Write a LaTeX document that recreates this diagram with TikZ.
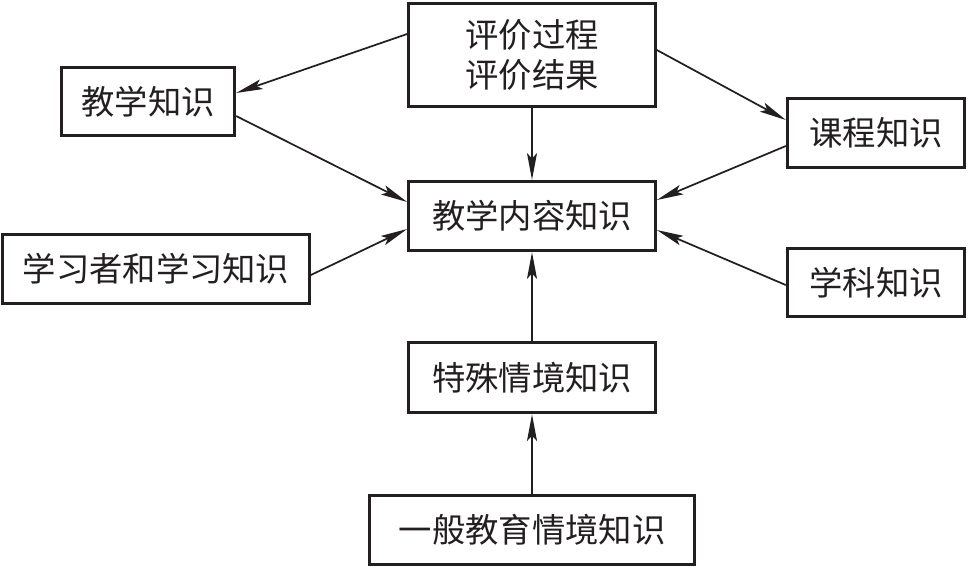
\documentclass[tikz,border=0pt]{standalone}
\usepackage{fontspec}
\usepackage{tikz}
\usetikzlibrary{arrows.meta}
\newfontfamily\cjk{Noto Sans CJK SC}
\definecolor{inkcolor}{HTML}{231F20}

\begin{document}
\begin{tikzpicture}[x=0.75pt, y=-0.75pt,
    box/.style={draw=inkcolor, line width=2.25pt, minimum width=185pt,
                minimum height=52pt, inner sep=0pt, align=center,
                font=\cjk\fontsize{25}{30}\selectfont, text=inkcolor},
    arr/.style={-{Stealth[length=20pt, width=7.5pt, inset=4pt]},
                line width=1.3pt, draw=inkcolor}
]
    \useasboundingbox (0,0) rectangle (968,568);

    \node[box, minimum height=77pt]                   (eval)    at (532,55)    {评价过程\\评价结果};
    \node[box, minimum width=130pt, minimum height=51pt] (teach)   at (148,101.5) {教学知识};
    \node[box, minimum width=230pt]                   (learner) at (156,269)   {学习者和学习知识};
    \node[box]                                        (pck)     at (532,216)   {教学内容知识};
    \node[box, minimum width=133pt]                   (curric)  at (876,133)   {课程知识};
    \node[box, minimum width=133pt, minimum height=51pt] (subject) at (876,282.5) {学科知识};
    \node[box, minimum height=53pt]                   (special) at (532,377.5) {特殊情境知识};
    \node[box, minimum width=244pt]                   (general) at (532,530)   {一般教育情境知识};

    \draw[arr] ([yshift=15.75pt]eval.west)   -- ([yshift=6.4pt]teach.east);
    \draw[arr] ([yshift=-10.9pt]teach.east)  -- ([yshift=10.5pt]pck.west);
    \draw[arr] ([yshift=-4.5pt]learner.east) -- ([yshift=-9.75pt]pck.west);
    \draw[arr] ([yshift=3.75pt]eval.east)    -- ([yshift=9.75pt]curric.west);
    \draw[arr] ([yshift=-9.75pt]curric.west) -- ([yshift=12pt]pck.east);
    \draw[arr] ([yshift=-1.9pt]subject.west) -- ([yshift=-10.5pt]pck.east);
    \draw[arr] (eval)    -- (pck);
    \draw[arr] (special) -- (pck);
    \draw[arr] (general) -- (special);
\end{tikzpicture}
\end{document}
